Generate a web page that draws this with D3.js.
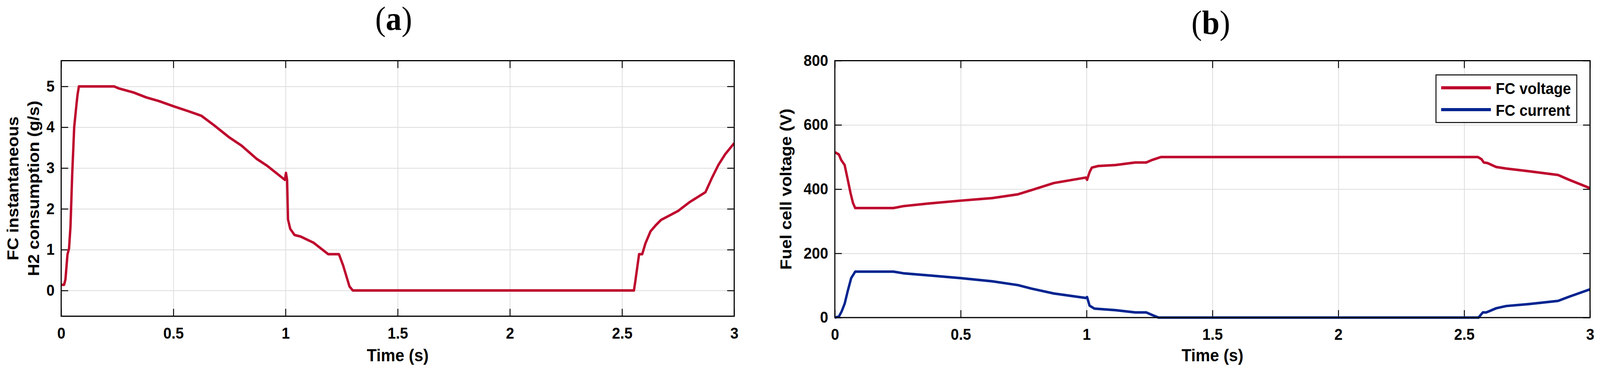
<!DOCTYPE html>
<html>
<head>
<meta charset="utf-8">
<script src="https://cdn.jsdelivr.net/npm/d3@7"></script>
<style>
  html, body { margin: 0; padding: 0; background: #fff; overflow: hidden; }
  svg { display: block; }
  text { font-family: "Liberation Sans", Arial, sans-serif; font-weight: bold; }
</style>
</head>
<body>
<div id="chart"></div>
<script>
var width = 4341, height = 974;

// (a) FC instantaneous H2 consumption (g/s)
var h2Time = [0, 0.013, 0.019, 0.028, 0.035, 0.0415, 0.049, 0.058, 0.068, 0.073,
  0.079, 0.236, 0.257, 0.323, 0.379, 0.436, 0.502, 0.568, 0.625, 0.681,
  0.747, 0.804, 0.87, 0.917, 0.997, 1.002, 1.007, 1.011, 1.021, 1.04,
  1.068, 1.125, 1.19, 1.238, 1.257, 1.285, 1.3, 2.553, 2.558, 2.576,
  2.59, 2.604, 2.627, 2.649, 2.674, 2.709, 2.75, 2.8, 2.872, 2.9,
  2.93, 2.96, 3.0];
var h2Flow = [0.14, 0.14, 0.27, 0.88, 1.03, 1.57, 2.83, 4.0, 4.55, 4.8,
  5.0, 5.0, 4.95, 4.85, 4.73, 4.64, 4.51, 4.39, 4.28, 4.05,
  3.76, 3.55, 3.23, 3.06, 2.71, 2.88, 2.71, 1.74, 1.51, 1.36,
  1.32, 1.17, 0.89, 0.89, 0.61, 0.10, 0, 0, 0.18, 0.89,
  0.89, 1.15, 1.45, 1.59, 1.73, 1.83, 1.95, 2.16, 2.41, 2.75,
  3.08, 3.34, 3.61];

// (b) FC voltage (V)
var voltTime = [0, 0.016, 0.025, 0.039, 0.052, 0.062, 0.072, 0.081, 0.233, 0.272,
  0.37, 0.498, 0.625, 0.728, 0.782, 0.87, 0.997, 1.002, 1.012, 1.021,
  1.046, 1.115, 1.193, 1.237, 1.261, 1.296, 2.554, 2.569, 2.578, 2.593,
  2.627, 2.667, 2.755, 2.873, 2.917, 3.0];
var voltValue = [515, 508, 491, 475, 427, 389, 357, 341, 341, 347,
  355, 364, 372, 384, 397, 419, 436, 429, 453, 467,
  472, 475, 483, 483, 491, 500, 500, 493, 483, 481,
  469, 464, 456, 444, 429, 403];

// (b) FC current
var currTime = [0, 0.016, 0.027, 0.039, 0.052, 0.065, 0.081, 0.233, 0.272, 0.38,
  0.498, 0.625, 0.728, 0.782, 0.87, 0.997, 1.002, 1.012, 1.031, 1.115,
  1.193, 1.237, 1.261, 1.286, 2.557, 2.574, 2.588, 2.627, 2.667, 2.755,
  2.873, 2.917, 3.0];
var currValue = [0, 3, 19, 43, 85, 123, 143, 143, 138, 131,
  123, 113, 101, 90, 75, 61, 64, 37, 28, 23,
  16, 16, 8, 0, 0, 16, 16, 29, 36, 42,
  52, 65, 88];

var timeTicks = [0, 0.5, 1, 1.5, 2, 2.5, 3];
var h2Ticks = [0, 1, 2, 3, 4, 5];
var voltTicks = [0, 200, 400, 600, 800];
var legendNames = ["FC voltage", "FC current"];

var red = "#be0a2e", blue = "#002490";

// scale the drawing to whatever the window really is
var svg = d3.select('#chart').append('svg')
    .attr('viewBox', '0 0 ' + width + ' ' + height)
    .attr('preserveAspectRatio', 'none')
    .style('width', '100vw')
    .style('height', '100vh');

function zip(xs, ys) {
  return xs.map(function(x, i){ return {t: x, v: ys[i]}; });
}

function drawPanel(box, yDomain, yTicks, series) {
  var x = d3.scaleLinear().domain([0, 3]).range([box.left, box.right]);
  var y = d3.scaleLinear().domain(yDomain).range([box.bottom, box.top]);
  var h = box.bottom - box.top, w = box.right - box.left;

  // grid
  svg.append('g')
      .attr('transform', 'translate(0,' + box.bottom + ')')
      .call(d3.axisBottom(x).tickValues(timeTicks).tickSize(-h).tickFormat(''))
      .call(function(g){ g.select('.domain').remove(); })
      .selectAll('line').attr('stroke', '#dcdcdc').attr('stroke-width', 2);
  svg.append('g')
      .attr('transform', 'translate(' + box.left + ',0)')
      .call(d3.axisLeft(y).tickValues(yTicks).tickSize(-w).tickFormat(''))
      .call(function(g){ g.select('.domain').remove(); })
      .selectAll('line').attr('stroke', '#dcdcdc').attr('stroke-width', 2);

  // ticks on all sides, inward
  var axes = [
    [d3.axisBottom(x).tickValues(timeTicks).tickFormat(d3.format('')), 'translate(0,' + box.bottom + ')', 29],
    [d3.axisTop(x).tickValues(timeTicks).tickFormat(''), 'translate(0,' + box.top + ')', 0],
    [d3.axisLeft(y).tickValues(yTicks).tickFormat(d3.format('')), 'translate(' + box.left + ',0)', 18],
    [d3.axisRight(y).tickValues(yTicks).tickFormat(''), 'translate(' + box.right + ',0)', 0]
  ];
  axes.forEach(function(a){
    var g = svg.append('g')
        .attr('transform', a[1])
        .call(a[0].tickSizeInner(-19).tickSizeOuter(0).tickPadding(a[2]));
    g.select('.domain').remove();
    g.selectAll('line').attr('stroke', '#000').attr('stroke-width', 2.5);
    g.selectAll('text').attr('fill', '#000').style('font-size', '40px');
  });

  // lines
  var line = d3.line()
      .x(function(d){ return x(d.t); })
      .y(function(d){ return y(d.v); });
  series.forEach(function(s){
    svg.append('path')
        .attr('d', line(s.data))
        .attr('fill', 'none')
        .attr('stroke', s.color)
        .attr('stroke-width', 6.5)
        .attr('stroke-linejoin', 'round')
        .attr('stroke-linecap', 'butt');
  });

  // box
  svg.append('rect')
      .attr('x', box.left).attr('y', box.top)
      .attr('width', w).attr('height', h)
      .attr('fill', 'none').attr('stroke', '#000').attr('stroke-width', 3);

  // x label
  svg.append('text')
      .attr('x', (box.left + box.right) / 2)
      .attr('y', 926)
      .attr('text-anchor', 'middle')
      .style('font-size', '44px')
      .text('Time (s)');

  return {x: x, y: y};
}

function title(cx, by, letter) {
  var t = svg.append('text')
      .attr('x', cx).attr('y', by)
      .attr('text-anchor', 'middle')
      .style('font-family', '"Liberation Serif", "Times New Roman", serif')
      .style('font-size', '86px')
      .style('font-weight', 'normal');
  t.append('tspan').text('(');
  t.append('tspan').style('font-weight', 'bold').text(letter);
  t.append('tspan').text(')');
}

// panel (a)
var boxA = {left: 166, right: 1992, top: 155.5, bottom: 810.5};
drawPanel(boxA, [-0.63, 5.63], h2Ticks, [
  {data: zip(h2Time, h2Flow), color: red}
]);
title(1068, 77, 'a');
var yLabA = svg.append('g');
yLabA.append('text')
    .attr('transform', 'translate(50,483) rotate(-90)')
    .attr('text-anchor', 'middle')
    .style('font-size', '44px')
    .text('FC instantaneous');
yLabA.append('text')
    .attr('transform', 'translate(106,483) rotate(-90)')
    .attr('text-anchor', 'middle')
    .style('font-size', '44px')
    .text('H2 consumption (g/s)');

// panel (b)
var boxB = {left: 2265, right: 4314, top: 155.5, bottom: 814};
drawPanel(boxB, [0, 800], voltTicks, [
  {data: zip(voltTime, voltValue), color: red},
  {data: zip(currTime, currValue), color: blue}
]);
title(3285, 87, 'b');
svg.append('text')
    .attr('transform', 'translate(2147,485) rotate(-90)')
    .attr('text-anchor', 'middle')
    .style('font-size', '44px')
    .text('Fuel cell voltage (V)');

// legend
var leg = svg.append('g');
leg.append('rect')
    .attr('x', 3896).attr('y', 192)
    .attr('width', 382).attr('height', 122)
    .attr('fill', '#fff').attr('stroke', '#000').attr('stroke-width', 2.5);
[red, blue].forEach(function(c, i){
  var yy = 225 + i * 56;
  leg.append('line')
      .attr('x1', 3910).attr('x2', 4045)
      .attr('y1', yy).attr('y2', yy)
      .attr('stroke', c).attr('stroke-width', 8);
  leg.append('text')
      .attr('x', 4058).attr('y', yy + 16)
      .style('font-size', '40px')
      .text(legendNames[i]);
});
</script>
</body>
</html>
